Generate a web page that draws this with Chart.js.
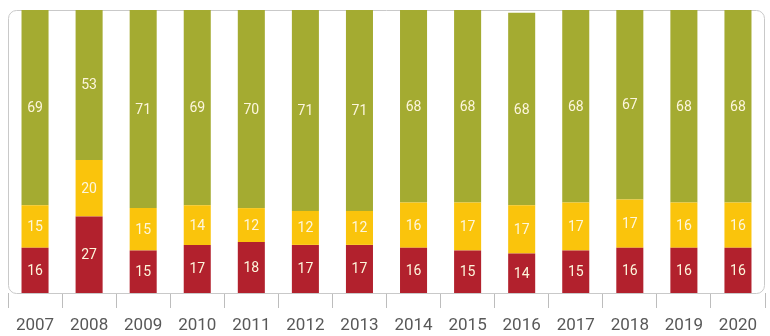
<!DOCTYPE html>
<html>
<head>
<meta charset="utf-8">
<script src="https://cdn.jsdelivr.net/npm/chart.js@4/dist/chart.umd.min.js"></script>
<style>
  html, body { margin: 0; padding: 0; background: #fff; }
  #wrap { width: 770px; height: 336px; position: relative; }
</style>
</head>
<body>
<div id="wrap"><canvas id="chartCanvas"></canvas></div>
<script>
// data (percent shares per year)
const years = ['2007','2008','2009','2010','2011','2012','2013','2014','2015','2016','2017','2018','2019','2020'];
const redValues = [16, 27, 15, 17, 18, 17, 17, 16, 15, 14, 15, 16, 16, 16];
const yellowValues = [15, 20, 15, 14, 12, 12, 12, 16, 17, 17, 17, 17, 16, 16];
const greenValues = [69, 53, 71, 69, 70, 71, 71, 68, 68, 68, 68, 67, 68, 68];

const RED = '#b2212d';
const YELLOW = '#fac40c';
const GREEN = '#a4ab31';

// rounded frame around the plot area
const framePlugin = {
  id: 'frame',
  beforeDatasetsDraw(chart){
    const a = chart.chartArea;
    const ctx = chart.ctx;
    ctx.save();
    ctx.strokeStyle = '#c9c9c9';
    ctx.lineWidth = 1;
    ctx.beginPath();
    ctx.roundRect(a.left + 0.5, a.top + 0.5, a.right - a.left - 1, a.bottom - a.top, 8);
    ctx.stroke();
    ctx.restore();
  }
};

// value labels in the middle of every segment
const valueLabels = {
  id: 'valueLabels',
  afterDatasetsDraw(chart){
    const ctx = chart.ctx;
    ctx.save();
    ctx.font = '14px Roboto, "DejaVu Sans", sans-serif';
    ctx.fillStyle = '#fdf6dc';
    ctx.textAlign = 'center';
    ctx.textBaseline = 'middle';
    chart.data.datasets.forEach((ds, i) => {
      const meta = chart.getDatasetMeta(i);
      meta.data.forEach((bar, j) => {
        const top = Math.max(bar.y, chart.chartArea.top);
        ctx.fillText(String(ds.data[j]), bar.x, (top + bar.base) / 2 + 1);
      });
    });
    ctx.restore();
  }
};

const ctx = document.getElementById('chartCanvas').getContext('2d');
const chart = new Chart(ctx, {
  type: 'bar',
  data: {
    labels: years,
    datasets: [
      { label: 'red', data: redValues, backgroundColor: RED },
      { label: 'yellow', data: yellowValues, backgroundColor: YELLOW },
      { label: 'green', data: greenValues, backgroundColor: GREEN }
    ]
  },
  options: {
    responsive: true,
    maintainAspectRatio: false,
    animation: false,
    barPercentage: 0.5,
    categoryPercentage: 1,
    layout: { padding: { left: 8, right: 5, top: 10, bottom: 0 } },
    plugins: { legend: { display: false }, tooltip: { enabled: false } },
    scales: {
      x: {
        stacked: true,
        border: { display: false },
        afterFit(scale){ scale.height = 43; },
        grid: { offset: true, drawOnChartArea: false, drawTicks: true, tickLength: 15, color: '#bdbdbd', tickColor: '#bdbdbd' },
        ticks: { color: '#585858', padding: 9, font: { family: 'Roboto, "DejaVu Sans", sans-serif', size: 17, lineHeight: 1 } }
      },
      y: {
        stacked: true,
        display: false,
        min: 0,
        max: 100
      }
    }
  },
  plugins: [framePlugin, valueLabels]
});
</script>
</body>
</html>
